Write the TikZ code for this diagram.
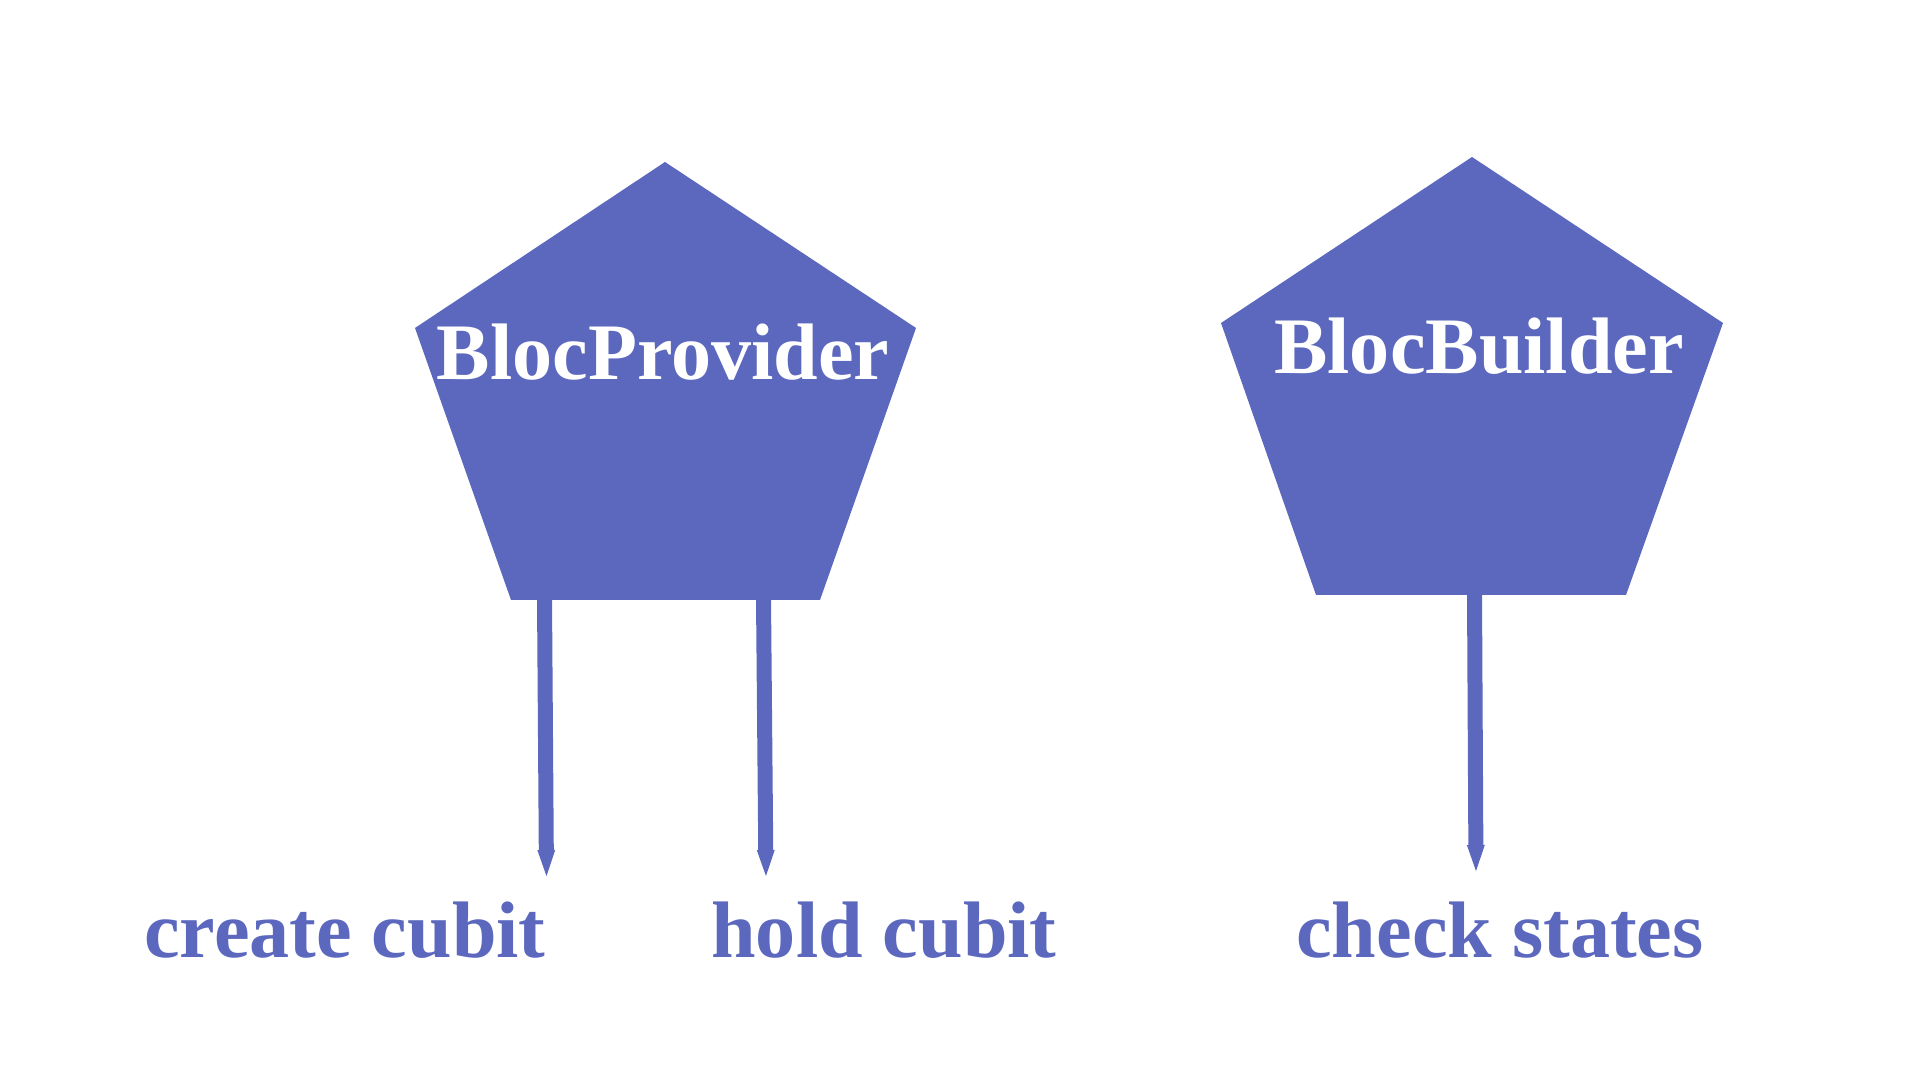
\documentclass[tikz,border=0pt]{standalone}
\usepackage{fontspec}
\setmainfont{Liberation Serif}
\usepackage{tikz}
\usetikzlibrary{arrows.meta}
\definecolor{blocblue}{RGB}{91,104,190}

\begin{document}
\begin{tikzpicture}[
  widget/.style={fill=blocblue, draw=none},
  widgettext/.style={text=white, anchor=base, font=\fontsize{22.8}{27}\selectfont\bfseries},
  role/.style={text=blocblue, anchor=base, font=\fontsize{22.8}{27}\selectfont\bfseries},
  link/.style={draw=blocblue, line width=0.15cm, -{Triangle[width=0.15cm,length=0.3cm]}}
]
\useasboundingbox (0,0) rectangle (19.2,10.8);
\fill[widget] (6.65,9.18) -- (9.16,7.52) -- (8.20,4.80) -- (5.11,4.80) -- (4.15,7.52) -- cycle;
\fill[widget] (14.72,9.23) -- (17.23,7.57) -- (16.26,4.85) -- (13.16,4.85) -- (12.21,7.57) -- cycle;
\node[widgettext] (provider) at (6.63,7.00) {BlocProvider};
\node[widgettext] (builder) at (14.79,7.06) {BlocBuilder};
\node[role] (create) at (3.45,1.22) {create cubit};
\node[role] (hold) at (8.84,1.22) {hold cubit};
\node[role] (check) at (15.00,1.22) {check states};
\coordinate (providerA) at (5.445,4.82);
\coordinate (providerB) at (7.635,4.82);
\coordinate (builderA) at (14.745,4.87);
\coordinate (createtip) at (5.465,2.00);
\coordinate (holdtip) at (7.66,2.00);
\coordinate (checktip) at (14.76,2.05);
\draw[link] (providerA) -- (createtip);
\draw[link] (providerB) -- (holdtip);
\draw[link] (builderA) -- (checktip);
\end{tikzpicture}
\end{document}
